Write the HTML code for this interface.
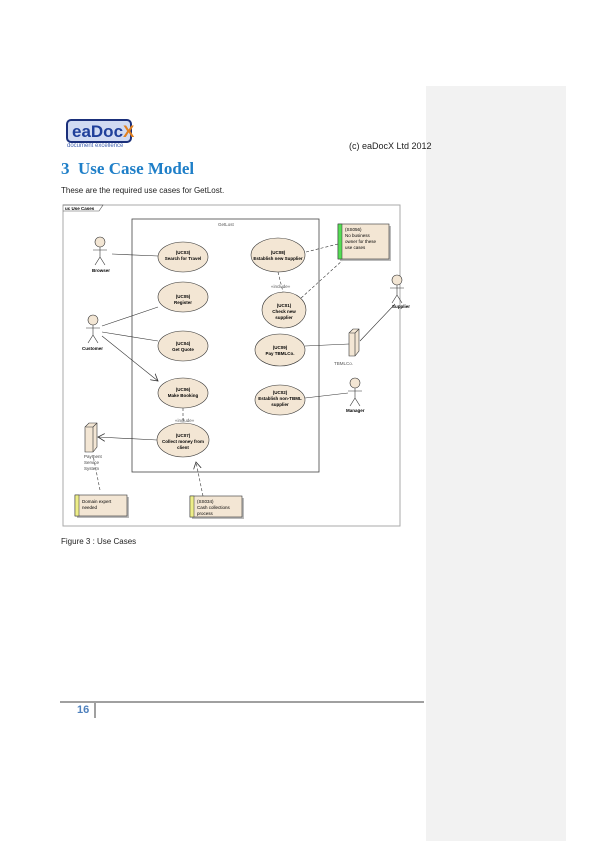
<!DOCTYPE html>
<html><head><style>
body{margin:0;width:595px;height:841px;background:#fff;position:relative;font-family:"Liberation Sans",sans-serif;overflow:hidden}
.side{position:absolute;left:426px;top:86px;width:140px;height:755px;background:#f2f2f2}
.t{position:absolute;white-space:nowrap}
</style></head><body>
<div class="side"></div>
<svg style="position:absolute;left:0;top:0" width="595" height="841">
<rect x="67" y="120" width="64" height="22" rx="4" fill="#d0daf2" stroke="#1a2f7a" stroke-width="2"/>
<text x="72" y="137" font-size="17" font-weight="bold" fill="#1f3f9a" font-family="Liberation Sans">eaDoc<tspan fill="#e08020">X</tspan></text>
<text x="67" y="147" font-size="6" fill="#4060b0" font-family="Liberation Sans">document excellence</text>
</svg>
<div class="t" style="left:349px;top:141px;font-size:9px;color:#222">(c) eaDocX Ltd 2012</div>
<div class="t" style="left:61px;top:159px;font-size:17px;font-weight:bold;color:#1f7fc8;font-family:'Liberation Serif',serif">3&nbsp; Use Case Model</div>
<div class="t" style="left:61px;top:186px;font-size:8px;color:#222">These are the required use cases for GetLost.</div>
<div class="t" style="left:61px;top:537px;font-size:8px;color:#222">Figure 3 : Use Cases</div>
<svg style="position:absolute;left:0;top:0" width="595" height="841" font-family="Liberation Sans" font-size="4.5">
<defs><marker id="a" markerUnits="userSpaceOnUse" markerWidth="8" markerHeight="8" refX="7" refY="4" orient="auto"><path d="M0,0 L7,4 L0,8" fill="none" stroke="#333" stroke-width="0.8"/></marker></defs>
<rect x="63" y="205" width="337" height="321" fill="#fff" stroke="#aaa"/>
<path d="M63,205 H103 L99,211 H63" fill="none" stroke="#555" stroke-width="0.6"/>
<text x="65" y="210" font-weight="bold">uc Use Cases</text>
<rect x="132" y="219" width="187" height="253" fill="none" stroke="#444" stroke-width="0.8"/>
<text x="218" y="226" fill="#555">GetLost</text>
<g fill="#f3e6d4" stroke="#333" stroke-width="0.6">
<ellipse cx="183" cy="257" rx="25" ry="15"/><ellipse cx="183" cy="297" rx="25" ry="15"/>
<ellipse cx="183" cy="346" rx="25" ry="15"/><ellipse cx="183" cy="393" rx="25" ry="15"/>
<ellipse cx="183" cy="440" rx="26" ry="17"/><ellipse cx="278" cy="255" rx="27" ry="17"/>
<ellipse cx="284" cy="310" rx="22" ry="18"/><ellipse cx="280" cy="350" rx="25" ry="16"/>
<ellipse cx="280" cy="400" rx="25" ry="15"/>
</g>
<g font-weight="bold" text-anchor="middle">
<text x="183" y="254">(UC03)</text><text x="183" y="260">Search for Travel</text>
<text x="183" y="298">(UC05)</text><text x="183" y="304">Register</text>
<text x="183" y="345">(UC04)</text><text x="183" y="351">Get Quote</text>
<text x="183" y="391">(UC06)</text><text x="183" y="397">Make Booking</text>
<text x="183" y="437">(UC07)</text><text x="183" y="443">Collect money from</text><text x="183" y="449">client</text>
<text x="278" y="254">(UC08)</text><text x="278" y="260">Establish new Supplier</text>
<text x="284" y="307">(UC01)</text><text x="284" y="313">Check new</text><text x="284" y="319">supplier</text>
<text x="280" y="349">(UC09)</text><text x="280" y="355">Pay TBMLCo.</text>
<text x="280" y="394">(UC02)</text><text x="280" y="400">Establish non-TBML</text><text x="280" y="406">supplier</text>
</g>
<g fill="none" stroke="#333" stroke-width="0.6">
<circle cx="100" cy="242" r="5" fill="#f3e6d4"/><path d="M100,247 V257 M93,250 H107 M100,257 L95,265 M100,257 L105,265"/>
<circle cx="93" cy="320" r="5" fill="#f3e6d4"/><path d="M93,325 V335 M86,328 H100 M93,335 L88,343 M93,335 L98,343"/>
<circle cx="397" cy="280" r="5" fill="#f3e6d4"/><path d="M397,285 V295 M390,288 H404 M397,295 L392,303 M397,295 L402,303"/>
<circle cx="355" cy="383" r="5" fill="#f3e6d4"/><path d="M355,388 V398 M348,391 H362 M355,398 L350,406 M355,398 L360,406"/>
<path d="M112,254 L158,256 M102,326 L158,307 M102,332 L158,341 M102,336 L158,381" marker-end="url(#a)"/>
<path d="M395,304 L360,341 M305,346 L349,344 M348,393 L305,398 M157,440 L98,437" marker-end="url(#a)"/>
<path d="M278,272 L283,292 M183,408 L183,423 M338,244 L306,252 M344,259 L300,299 M100,490 L93,455 M203,496 L196,462" stroke-dasharray="3,2" marker-end="url(#a)"/>
</g>
<g fill="#f3e6d4" stroke="#333" stroke-width="0.6">
<path d="M349,333 L353,329 H359 V351 L355,356 H349 Z"/><path d="M349,333 H355 V356 M355,333 L359,329"/>
<path d="M85,427 L89,423 H97 V447 L93,452 H85 Z"/><path d="M85,427 H93 V452 M93,427 L97,423"/>
</g>
<text x="334" y="365" fill="#555">TBMLCo.</text>
<text x="392" y="308" font-weight="bold">Supplier</text>
<text x="346" y="412" font-weight="bold">Manager</text>
<text x="92" y="272" font-weight="bold">Browser</text>
<text x="82" y="350" font-weight="bold">Customer</text>
<text x="84" y="458" fill="#444">Payment</text><text x="84" y="464" fill="#444">Service</text><text x="84" y="470" fill="#444">System</text>
<text x="271" y="288" fill="#555">«include»</text><text x="175" y="422" fill="#555">«include»</text>
<rect x="340" y="226" width="51" height="35" fill="#bbb"/>
<rect x="338" y="224" width="51" height="35" fill="#f3e6d4" stroke="#333" stroke-width="0.6"/><rect x="338" y="224" width="4" height="35" fill="#55dd55" stroke="#333" stroke-width="0.5"/>
<text x="345" y="231">(SS056)</text><text x="345" y="237">No business</text><text x="345" y="243">owner for these</text><text x="345" y="249">use cases</text>
<rect x="77" y="497" width="52" height="21" fill="#bbb"/>
<rect x="75" y="495" width="52" height="21" fill="#f3e6d4" stroke="#333" stroke-width="0.6"/><rect x="75" y="495" width="4" height="21" fill="#eeee88" stroke="#333" stroke-width="0.5"/>
<text x="82" y="503">Domain expert</text><text x="82" y="509">needed</text>
<rect x="192" y="498" width="52" height="21" fill="#bbb"/>
<rect x="190" y="496" width="52" height="21" fill="#f3e6d4" stroke="#333" stroke-width="0.6"/><rect x="190" y="496" width="4" height="21" fill="#eeee88" stroke="#333" stroke-width="0.5"/>
<text x="197" y="503">(SS034)</text><text x="197" y="509">Cash collections</text><text x="197" y="515">process</text>
<line x1="60" y1="702" x2="424" y2="702" stroke="#808080" stroke-width="1.5"/>
<line x1="95" y1="703" x2="95" y2="718" stroke="#808080" stroke-width="1.5"/>
</svg>
<div class="t" style="left:77px;top:704px;font-size:11px;font-weight:bold;color:#4f81bd">16</div>
</body></html>
